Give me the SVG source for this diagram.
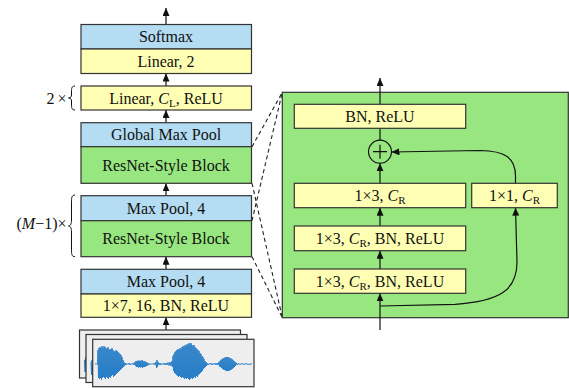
<svg xmlns="http://www.w3.org/2000/svg" width="569" height="388" viewBox="0 0 569 388">
<defs>
<style>
.box{stroke:#333;stroke-width:1.2}
.blue{fill:#b4dcf2}
.yel{fill:#ffffb4}
.grn{fill:#98e67f}
.t{font-family:"Liberation Serif","Times New Roman",serif;font-size:16px;fill:#111;text-anchor:middle}
.tl{font-family:"Liberation Serif","Times New Roman",serif;font-size:16px;fill:#111}
.it{font-style:italic}
.sub{font-size:11px}
.ln{stroke:#111;stroke-width:1.2;fill:none}
.dash{stroke:#222;stroke-width:1.1;fill:none;stroke-dasharray:4 3}
.panel{fill:#eeeeee;stroke:#333;stroke-width:1.2}
.wave{stroke:#2a80c8;stroke-width:1;fill:none;stroke-linejoin:round}
</style>
<marker id="ah" markerUnits="userSpaceOnUse" markerWidth="9" markerHeight="8" refX="8" refY="3.5" orient="auto">
<path d="M0,0 L8,3.5 L0,7 z" fill="#111"/>
</marker>
</defs>
<rect width="569" height="388" fill="#ffffff"/>

<g id="connectors">
<line class="ln" x1="166" y1="24.5" x2="166" y2="8" marker-end="url(#ah)"/>
<line class="ln" x1="166" y1="86" x2="166" y2="73.5" marker-end="url(#ah)"/>
<line class="ln" x1="166" y1="122.7" x2="166" y2="110" marker-end="url(#ah)"/>
<line class="ln" x1="166" y1="195.7" x2="166" y2="183.3" marker-end="url(#ah)"/>
<line class="ln" x1="166" y1="269.3" x2="166" y2="256.7" marker-end="url(#ah)"/>
<line class="ln" x1="166" y1="330" x2="166" y2="317.3" marker-end="url(#ah)"/>
<line class="dash" x1="252" y1="146.7" x2="282.3" y2="92.3"/>
<line class="dash" x1="252" y1="220.7" x2="282.3" y2="92.3"/>
<line class="dash" x1="252" y1="183.3" x2="282.3" y2="317.7"/>
<line class="dash" x1="252" y1="256.7" x2="282.3" y2="317.7"/>
</g>

<g id="brace-2x">
<text class="tl" x="46.5" y="103.5">2<tspan dx="3">×</tspan></text>
<path class="ln" style="stroke-width:1" d="M75,86 C71.5,86 71.5,88.5 71.5,92 L71.5,95 C71.5,97 70.5,98 68.5,98 C70.5,98 71.5,99 71.5,101 L71.5,104 C71.5,107.5 71.5,110 75,110"/>
</g>
<g id="brace-m1">
<text class="tl" x="66.5" y="228.5" style="text-anchor:end">(<tspan class="it">M</tspan>−1)×</text>
<path class="ln" style="stroke-width:1" d="M75,195 C71.5,195 71.5,198 71.5,203 L71.5,220 C71.5,224 70.5,226 68.5,226 C70.5,226 71.5,228 71.5,232 L71.5,249 C71.5,254 71.5,256.7 75,256.7"/>
</g>

<g id="softmax"><rect class="box blue" x="81" y="24.5" width="170.5" height="24.5"/><text class="t" x="166" y="42.3">Softmax</text></g>
<g id="linear2"><rect class="box yel" x="81" y="49" width="170.5" height="24.5"/><text class="t" x="166" y="66.8">Linear, 2</text></g>
<g id="linearCL"><rect class="box yel" x="81" y="86" width="170.5" height="24"/><text class="t" x="166" y="103.5">Linear, <tspan class="it">C</tspan><tspan class="sub" dy="3">L</tspan><tspan dy="-3">, ReLU</tspan></text></g>
<g id="gmp"><rect class="box blue" x="81" y="122.7" width="170.5" height="24"/><text class="t" x="166" y="140.2">Global Max Pool</text></g>
<g id="resblock1"><rect class="box grn" x="81" y="146.7" width="170.5" height="36.6"/><text class="t" x="166" y="170.5">ResNet-Style Block</text></g>
<g id="maxpool1"><rect class="box blue" x="81" y="195.7" width="170.5" height="25"/><text class="t" x="166" y="213.7">Max Pool, 4</text></g>
<g id="resblock2"><rect class="box grn" x="81" y="220.7" width="170.5" height="36"/><text class="t" x="166" y="244.2">ResNet-Style Block</text></g>
<g id="maxpool2"><rect class="box blue" x="81" y="269.3" width="170.5" height="24.7"/><text class="t" x="166" y="287.2">Max Pool, 4</text></g>
<g id="conv17"><rect class="box yel" x="81" y="294" width="170.5" height="23.3"/><text class="t" x="166" y="311.2">1×7, 16, BN, ReLU</text></g>

<g id="waveform">
<rect class="panel" x="79.5" y="330" width="161" height="48"/>
<path class="wave" d="M84.5,360 L85,372 L85.5,357 L86,371"/>
<rect class="panel" x="86" y="334.5" width="161" height="48"/>
<path class="wave" d="M91,362 L91.5,375 L92,360 L92.5,374"/>
<rect class="panel" x="92.7" y="339.3" width="161.3" height="47.4"/>
<path class="wave" d="M95,364 L97.5,364 L98,350 L98.5,378 L99,348 L99.5,379 L100,347 L100.5,378 L101,348 L101.5,380 L102,346 L102.5,378 L103,348 L103.5,377 L104,346 L104.5,378 L105,347 L105.5,379 L106,348 L106.5,377 L107,349 L107.5,378 L108,347 L108.5,379 L109,349 L109.5,377 L110,350 L110.5,378 L111,349 L111.5,376 L112,348 L112.5,375 L113,350 L113.5,377 L114,351 L114.5,376 L115,352 L115.5,375 L116,350 L116.5,374 L117,351 L117.5,373 L118,352 L118.5,372 L119,353 L119.5,371 L120,354 L120.5,370 L121,355 L121.5,369 L122,357 L122.5,368 L123,360 L123.5,367 L124,362 L124.5,366 L125,364 L125.5,363 L126,365 L127,363.5 L128,364.5 L129,363 L130,365 L131,363.5 L132,364.5 L133,363 L134,365 L135,362 L135.5,366 L136,361 L136.5,367 L137,361 L137.5,367 L138,360.5 L138.5,367.5 L139,361 L139.5,367 L140,360.5 L140.5,367.5 L141,361 L141.5,367 L142,360 L142.5,368 L143,361 L143.5,367 L144,361 L144.5,367 L145,361.5 L145.5,366.5 L146,362 L146.5,366 L147,362.5 L147.5,365.5 L148,363 L149,365 L150,363.5 L151,364.5 L152,363.5 L153,364.5 L154,363 L155,365 L156,362 L156.5,368 L157,360 L157.5,367 L158,362 L159,365 L160,363 L161,365 L162,363.5 L163,364.5 L164,363 L165,365 L166,363 L167,365 L168,362.5 L169,365.5 L170,362 L171,366 L172,361 L172.5,367 L173,356 L173.5,371 L174,354 L174.5,373 L175,352 L175.5,374 L176,351 L176.5,375 L177,350 L177.5,376 L178,349 L178.5,377 L179,350 L179.5,376 L180,348 L180.5,377 L181,349 L181.5,378 L182,347 L182.5,377 L183,346 L183.5,378 L184,347 L184.5,379 L185,345 L185.5,378 L186,346 L186.5,379 L187,344 L187.5,378 L188,345 L188.5,379 L189,343 L189.5,380 L190,344 L190.5,379 L191,343 L191.5,378 L192,345 L192.5,379 L193,346 L193.5,378 L194,345 L194.5,377 L195,347 L195.5,378 L196,348 L196.5,376 L197,349 L197.5,377 L198,350 L198.5,375 L199,351 L199.5,374 L200,353 L200.5,373 L201,354 L201.5,372 L202,356 L202.5,371 L203,357 L203.5,369 L204,359 L204.5,368 L205,361 L205.5,367 L206,362 L206.5,366 L207,363 L208,365 L209,363.5 L210,364.5 L211,363 L212,365 L213,363.5 L214,364.5 L215,363 L216,365 L217,363 L218,365 L219,362 L219.5,366.5 L220,361 L220.5,367 L221,360 L221.5,368 L222,359 L222.5,369 L223,358.5 L223.5,369.5 L224,358 L224.5,370 L225,357.5 L225.5,370.5 L226,357 L226.5,371 L227,357 L227.5,371 L228,357 L228.5,371 L229,357.5 L229.5,370.5 L230,358 L230.5,370 L231,358.5 L231.5,369.5 L232,359 L232.5,369 L233,360 L233.5,368 L234,361 L234.5,367 L235,362 L235.5,366 L236,362.5 L237,365 L238,363.5 L240,364.5 L242,363.5 L244,364.5 L246,363.5 L248,364.5 L250,364 L252,364"/>
</g>

<g id="resnet-panel">
<rect x="282.3" y="92.3" width="286" height="225.4" fill="#98e67f" stroke="#333" stroke-width="1.2"/>
</g>

<g id="panel-connectors">
<line class="ln" x1="380" y1="104.3" x2="380" y2="78" marker-end="url(#ah)"/>
<line class="ln" x1="380" y1="128.3" x2="380" y2="140.2"/>
<line class="ln" x1="380" y1="183.3" x2="380" y2="163.2" marker-end="url(#ah)"/>
<line class="ln" x1="380" y1="226" x2="380" y2="207.7" marker-end="url(#ah)"/>
<line class="ln" x1="380" y1="269" x2="380" y2="250.7" marker-end="url(#ah)"/>
<line class="ln" x1="380" y1="330" x2="380" y2="293.3" marker-end="url(#ah)"/>
<path class="ln" d="M380,306 L455,304.3 C500,301.5 517,290 517,262 L515.5,207.7" marker-end="url(#ah)"/>
<path class="ln" d="M515.5,183.3 L515.5,176 C515.5,158 505,150.8 480,150.5 L391.5,152" marker-end="url(#ah)"/>
</g>

<g id="bnrelu"><rect class="box yel" x="294.3" y="104.3" width="171.4" height="24"/><text class="t" x="380" y="121.8">BN, ReLU</text></g>
<g id="add"><circle cx="380" cy="151.7" r="11.5" fill="#98e67f" stroke="#111" stroke-width="1.2"/><path class="ln" d="M373,151.7 L387,151.7 M380,144.7 L380,158.7"/></g>
<g id="conv13b"><rect class="box yel" x="294.3" y="183.3" width="171.4" height="24.4"/><text class="t" x="380" y="201">1×3, <tspan class="it">C</tspan><tspan class="sub" dy="3">R</tspan></text></g>
<g id="conv11"><rect class="box yel" x="471.7" y="183.3" width="85.6" height="24.4"/><text class="t" x="514.5" y="201">1×1, <tspan class="it">C</tspan><tspan class="sub" dy="3">R</tspan></text></g>
<g id="conv13a2"><rect class="box yel" x="294.3" y="226" width="171.4" height="24.7"/><text class="t" x="380" y="243.8">1×3, <tspan class="it">C</tspan><tspan class="sub" dy="3">R</tspan><tspan dy="-3">, BN, ReLU</tspan></text></g>
<g id="conv13a1"><rect class="box yel" x="294.3" y="269" width="171.4" height="24.3"/><text class="t" x="380" y="286.7">1×3, <tspan class="it">C</tspan><tspan class="sub" dy="3">R</tspan><tspan dy="-3">, BN, ReLU</tspan></text></g>
</svg>
